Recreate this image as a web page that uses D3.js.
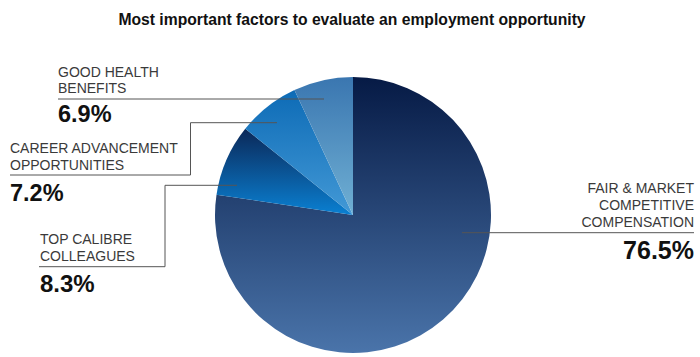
<!DOCTYPE html>
<html><head><meta charset="utf-8">
<script src="https://cdn.jsdelivr.net/npm/d3@7"></script>
<style>body{margin:0;background:#fff;} svg{display:block;}</style>
</head><body>
<svg id="c" width="700" height="357"></svg>
<script>
const title = "Most important factors to evaluate an employment opportunity";
const categories = ["FAIR & MARKET|COMPETITIVE|COMPENSATION", "TOP CALIBRE|COLLEAGUES", "CAREER ADVANCEMENT|OPPORTUNITIES", "GOOD HEALTH|BENEFITS"];
const values = [76.5, 8.3, 7.2, 6.9];
const valueLabels = ["76.5%", "8.3%", "7.2%", "6.9%"];
const gradTop = ["#061a45", "#0b2858", "#0d6bb6", "#3a76b0"];
const gradBottom = ["#4a74aa", "#0a80d2", "#4399d6", "#70b0d4"];

const svg = d3.select("#c");
const cx = 353, cy = 215, R = 138;

svg.append("text").attr("x", 352).attr("y", 25).attr("text-anchor", "middle")
  .attr("font-family", "Liberation Sans, Arial, sans-serif").attr("font-weight", "bold")
  .attr("font-size", 15.7).attr("fill", "#111").text(title);

const defs = svg.append("defs");
values.forEach((v, i) => {
  const g = defs.append("linearGradient").attr("id", "g" + i)
    .attr("x1", 0).attr("y1", 0).attr("x2", 0).attr("y2", 1);
  g.append("stop").attr("offset", "0%").attr("stop-color", gradTop[i]);
  g.append("stop").attr("offset", "100%").attr("stop-color", gradBottom[i]);
});

const pie = d3.pie().sort(null).value(d => d);
const arc = d3.arc().innerRadius(0).outerRadius(R);
const arcs = pie(values);
const gp = svg.append("g").attr("transform", `translate(${cx},${cy})`);
gp.selectAll("path").data(arcs).enter().append("path")
  .attr("d", arc).attr("fill", (d, i) => `url(#g${i})`);

// label layout (positions only)
const layout = [
  { anchor: "end", x: 694, lines: [193.3, 210, 226.7], pctY: 258.5, pctSize: 25,
    path: [[462, 232.7], [694, 232.7]] },
  { anchor: "start", x: 40, lines: [244.3, 260.7], pctY: 291.5, pctSize: 24,
    path: [[237, 185.3], [165, 185.3], [165, 266.7], [39, 266.7]] },
  { anchor: "start", x: 10, lines: [153.3, 170], pctY: 200.7, pctSize: 23.5,
    path: [[277, 122.7], [190.5, 122.7], [190.5, 175], [10, 175]] },
  { anchor: "start", x: 58, lines: [77.3, 93.3], pctY: 121.5, pctSize: 23.5,
    path: [[324, 99], [58, 99]] }
];

const lg = svg.append("g");
layout.forEach((L, i) => {
  lg.append("path").attr("d", d3.line()(L.path)).attr("fill", "none")
    .attr("stroke", "#555").attr("stroke-width", 1);
  const parts = categories[i].split("|");
  parts.forEach((t, j) => {
    lg.append("text").attr("x", L.x).attr("y", L.lines[j]).attr("text-anchor", L.anchor)
      .attr("font-family", "Liberation Sans, Arial, sans-serif").attr("font-size", 14)
      .attr("fill", "#3a3a3a").text(t);
  });
  lg.append("text").attr("x", L.x).attr("y", L.pctY).attr("text-anchor", L.anchor)
    .attr("font-family", "Liberation Sans, Arial, sans-serif").attr("font-weight", "bold")
    .attr("font-size", L.pctSize).attr("fill", "#111").text(valueLabels[i]);
});
</script>
</body></html>
